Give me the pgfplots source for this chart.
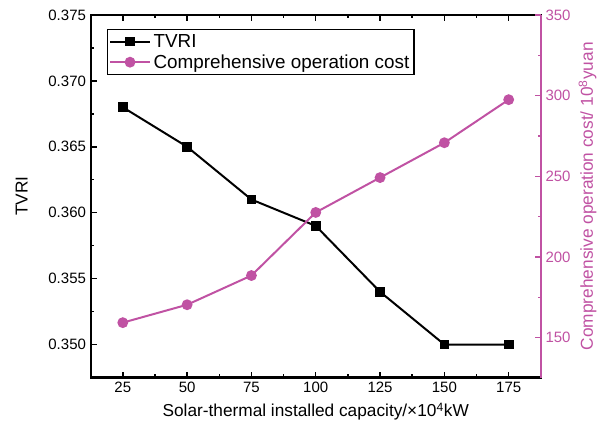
\documentclass[border=0pt]{standalone}
\usepackage{fontspec}
\setmainfont{Liberation Sans}
\usepackage{pgfplots}
\pgfplotsset{compat=1.18}
\definecolor{mag}{RGB}{192,82,163}
\begin{document}
\begin{tikzpicture}
\pgfplotsset{
  common/.style={
    scale only axis, width=339pt, height=273pt,
    xmin=12.5, xmax=187.5,
    tick align=inside,
    major tick length=4.5pt, minor tick length=2.5pt,
    /pgf/number format/assume math mode=true,
    every tick label/.append style={font=\fontsize{11.3}{13}\selectfont},
    xticklabel style={font=\fontsize{11.3}{13}\selectfont},
    yticklabel style={font=\fontsize{11.3}{13}\selectfont},
    label style={font=\fontsize{13}{15}\selectfont},
  }
}
\begin{axis}[common, name=ax1,
  ymin=0.3475, ymax=0.375,
  xtick={25,50,75,100,125,150,175}, minor x tick num=1,
  ytick={0.350,0.355,0.360,0.365,0.370,0.375}, minor y tick num=1,
  ytick pos=left, xtick pos=both, xticklabel pos=lower,
  axis line style={line width=1.6pt},
  every tick/.style={black, line width=1.1pt},
  yticklabel style={/pgf/number format/.cd, fixed, fixed zerofill, precision=3},
  xlabel={Solar-thermal installed capacity/×10\textsuperscript{4}kW},
  ylabel={TVRI},
  xlabel style={at={(axis description cs:0.5,-0.094)}, anchor=center},
  ylabel style={at={(axis description cs:-0.153,0.5)}, anchor=center, rotate=0},
]
\addplot[black, line width=1.5pt, mark=square*, mark size=2.9pt] coordinates {
(25,0.368) (50,0.365) (75,0.361) (100,0.359) (125,0.354) (150,0.350) (175,0.350)};
\end{axis}
\begin{axis}[common,
  ymin=125.3, ymax=350,
  axis x line=none, axis y line*=right,
  tick align=inside,
  ytick={150,200,250,300,350}, minor y tick num=1,
  y axis line style={mag, line width=1.6pt},
  every tick/.style={mag, line width=1.1pt},
  yticklabel style={mag},
  ylabel={Comprehensive operation cost/ 10\textsuperscript{8}yuan},
  ylabel style={mag, at={(axis description cs:1.104,0.5)}, anchor=center, rotate=0},
  legend style={at={(axis description cs:0.0354,0.9615)}, anchor=north west, draw=black, line width=0.8pt,
    font=\fontsize{14.2}{17}\selectfont, inner sep=1.5pt, row sep=0pt},
  legend cell align=left,
  legend image code/.code={\draw[mark repeat=2,mark phase=2] plot coordinates {(0pt,0pt)(15pt,0pt)(30pt,0pt)};},
]
\addlegendimage{black, line width=1.5pt, mark=square*, mark size=2.9pt}
\addlegendentry{TVRI}
\addplot[mag, line width=1.5pt, mark=*, mark size=3.3pt] coordinates {
(25,159.3) (50,170.4) (75,188.5) (100,227.6) (125,249.2) (150,270.8) (175,297.5)};
\addlegendentry{Comprehensive operation cost}
\end{axis}
\useasboundingbox ([xshift=-68.25pt,yshift=-43.5pt]ax1.south west) rectangle ([xshift=43.5pt,yshift=11.25pt]ax1.north east);
\end{tikzpicture}
\end{document}
